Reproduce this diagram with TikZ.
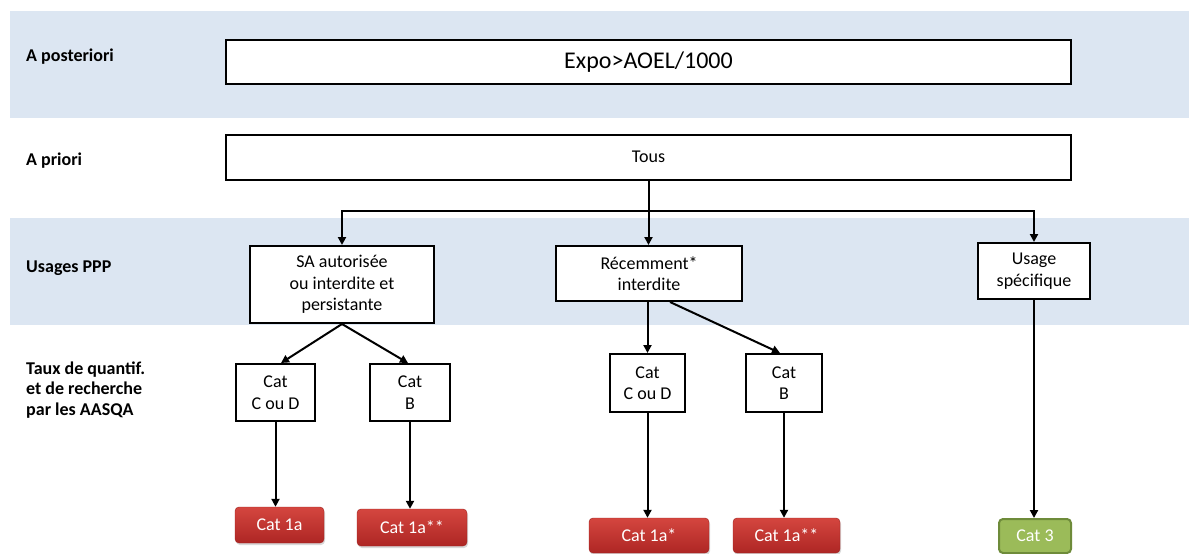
\documentclass[tikz,border=0pt]{standalone}
\usepackage{fontspec}
\setmainfont{Carlito}
\usetikzlibrary{arrows.meta,shadows,calc}
\definecolor{band}{HTML}{DCE6F2}
\definecolor{redtop}{HTML}{D4463F}
\definecolor{redbot}{HTML}{AE2624}
\definecolor{redline}{HTML}{9E2220}
\definecolor{gfill}{HTML}{9BBB59}
\definecolor{gdraw}{HTML}{6E8B3A}
\tikzset{
  wbox/.style={draw=black, line width=2pt, fill=white, inner sep=0pt, align=center, font=\fontsize{18}{21.5}\selectfont},
  lab/.style={anchor=west, align=left, inner sep=0pt, font=\bfseries\fontsize{18}{20.5}\selectfont},
  redbox/.style={rounded corners=4pt, top color=redtop, bottom color=redbot, draw=redline, inner sep=0pt, text=white,
     font=\fontsize{18}{20}\selectfont, drop shadow={shadow xshift=1pt, shadow yshift=-2pt, opacity=0.3}},
  greenbox/.style={rounded corners=4pt, fill=gfill, draw=gdraw, line width=2pt, inner sep=0pt, text=white,
     font=\fontsize{18}{20}\selectfont},
  arr/.style={line width=2pt, -{Triangle[length=8pt,width=8pt]}},
  ln/.style={line width=2pt}
}
\begin{document}
\begin{tikzpicture}[x=1pt,y=-1pt]
\useasboundingbox (0,0) rectangle (1189,554);
\fill[band] (10,11) rectangle (1189,118);
\fill[band] (10,218) rectangle (1189,325);
% labels
\node[lab] (l1) at (26,57) {A posteriori};
\node[lab] (l2) at (26,161) {A priori};
\node[lab] (l3) at (26,268) {Usages PPP};
\node[lab] (l4) at (26,390) {Taux de quantif.\\et de recherche\\par les AASQA};
% main boxes
\node[wbox, minimum width=845pt, minimum height=44pt, font=\fontsize{24}{28}\selectfont] (expo) at (648.5,62) {Expo>AOEL/1000};
\node[wbox, minimum width=845pt, minimum height=45pt] (tous) at (648.5,157) {Tous};
\node[wbox, minimum width=184pt, minimum height=77pt] (sa) at (342,284.5) {SA autorisée\\ou interdite et\\persistante};
\node[wbox, minimum width=186pt, minimum height=55pt] (rec) at (649,273.5) {Récemment*\\interdite};
\node[wbox, minimum width=112pt, minimum height=56pt] (us) at (1034,271) {Usage\\spécifique};
\node[wbox, minimum width=79pt, minimum height=57pt] (cdL) at (275.5,392.5) {Cat\\C ou D};
\node[wbox, minimum width=80pt, minimum height=57pt] (bL) at (410,392.5) {Cat\\B};
\node[wbox, minimum width=75pt, minimum height=58pt] (cdR) at (647.5,383) {Cat\\C ou D};
\node[wbox, minimum width=76pt, minimum height=58pt] (bR) at (784,383) {Cat\\B};
% result boxes
\node[redbox, minimum width=89pt, minimum height=36pt] (r1) at (279.5,525) {Cat 1a};
\node[redbox, minimum width=110pt, minimum height=37pt] (r2) at (412,527.5) {Cat 1a**};
\node[redbox, minimum width=120pt, minimum height=35pt] (r3) at (649,535.5) {Cat 1a*};
\node[redbox, minimum width=107pt, minimum height=35pt] (r4) at (786.5,535.5) {Cat 1a**};
\node[greenbox, minimum width=72pt, minimum height=34pt] (g3) at (1035,536) {Cat 3};
% connectors
\coordinate (j) at (tous.south |- 0,211);
\draw[ln] (tous.south) -- (j);
\draw[arr] (j) -| (sa.north);
\draw[arr] (j) -| (us.north);
\draw[arr] (j) -- (rec.north -| j);
\draw[arr] (sa.south) -- ([xshift=5.5pt]cdL.north);
\draw[arr] (sa.south) -- ([xshift=-2pt]bL.north);
\draw[arr] (cdR.north |- rec.south) -- (cdR.north);
\draw[arr] ([xshift=21pt]rec.south) -- ([xshift=-4pt]bR.north);
\draw[arr] (cdL.south) -- (cdL.south |- r1.north);
\draw[arr] (bL.south) -- (bL.south |- r2.north);
\draw[arr] (cdR.south) -- (cdR.south |- r3.north);
\draw[arr] (bR.south) -- (bR.south |- r4.north);
\draw[arr] (us.south) -- (us.south |- g3.north);
\end{tikzpicture}
\end{document}
